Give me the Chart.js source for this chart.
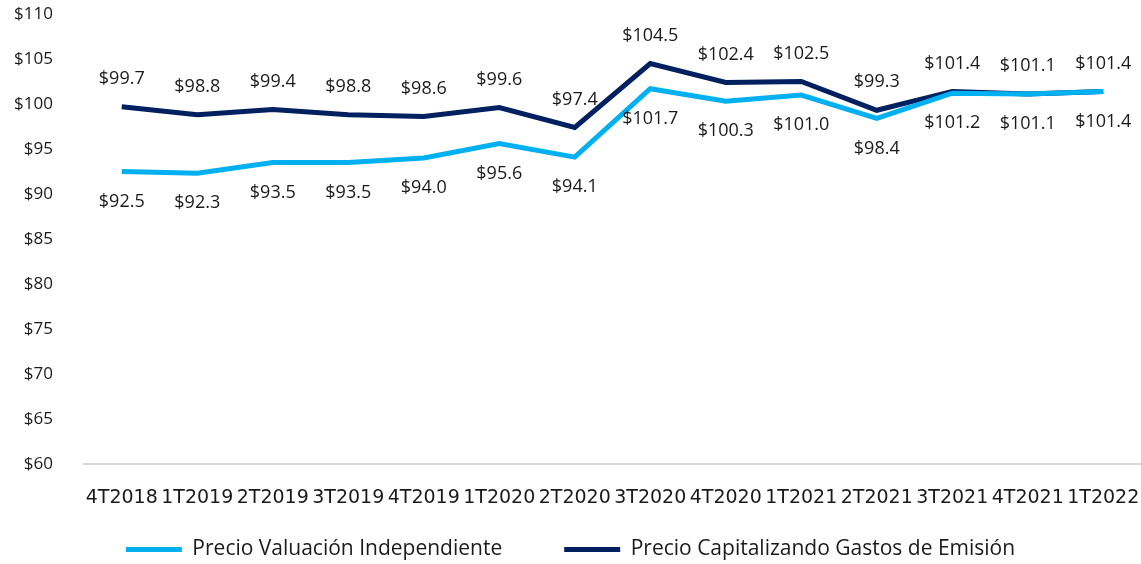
<!DOCTYPE html>
<html>
<head>
<meta charset="utf-8">
<script src="https://cdn.jsdelivr.net/npm/chart.js@4.4.1/dist/chart.umd.min.js"></script>
<style>
  html, body { margin: 0; padding: 0; background: #fff; }
  #wrap { width: 1141px; height: 564px; }
</style>
</head>
<body>
<div id="wrap"><canvas id="precioChart" width="1141" height="564"></canvas></div>
<script>
var trimestres = ['4T2018', '1T2019', '2T2019', '3T2019', '4T2019', '1T2020', '2T2020',
                  '3T2020', '4T2020', '1T2021', '2T2021', '3T2021', '4T2021', '1T2022'];
var precioValuacion = [92.5, 92.3, 93.5, 93.5, 94.0, 95.6, 94.1, 101.7, 100.3, 101.0, 98.4, 101.2, 101.1, 101.4];
var precioCapitalizando = [99.7, 98.8, 99.4, 98.8, 98.6, 99.6, 97.4, 104.5, 102.4, 102.5, 99.3, 101.4, 101.1, 101.4];
var yTicks = [60, 65, 70, 75, 80, 85, 90, 95, 100, 105, 110];

var etiquetas = {
    id: 'etiquetas',
    beforeLayout: function(chart) {
        // la leyenda ocupa poco en el layout, pero se dibuja en una caja mas alta
        var lg = chart.legend;
        if (lg && !lg._ajustada) {
            var fitOrig = lg.fit;
            var drawOrig = lg.draw;
            lg.fit = function() { fitOrig.call(this); this.height = 50; };
            lg.draw = function() {
                var t = this.top, h = this.height;
                this.top = this.bottom - 87;
                this.height = 87;
                drawOrig.apply(this, arguments);
                this.top = t;
                this.height = h;
            };
            lg._ajustada = true;
        }
    },
    // etiquetas de datos (arriba la serie oscura, abajo la clara)
    afterDatasetsDraw: function(chart) {
        var ctx = chart.ctx;
        ctx.save();
        ctx.font = '18px "Open Sans"';
        ctx.fillStyle = '#1a1a1a';
        ctx.textAlign = 'center';
        ctx.textBaseline = 'middle';
        chart.data.datasets.forEach(function(ds, i) {
            var meta = chart.getDatasetMeta(i);
            var off = i === 1 ? -28 : 30;
            meta.data.forEach(function(pt, j) {
                ctx.fillText('$' + ds.data[j].toFixed(1), pt.x, pt.y + off);
            });
        });
        ctx.restore();
    }
};

var ctx = document.getElementById('precioChart').getContext('2d');
var chart = new Chart(ctx, {
    type: 'line',
    data: {
        labels: trimestres,
        datasets: [{
            label: 'Precio Valuación Independiente',
            data: precioValuacion,
            borderColor: '#00b0f0',
            backgroundColor: '#00b0f0',
            borderWidth: 5,
            pointRadius: 0,
            tension: 0
        }, {
            label: 'Precio Capitalizando Gastos de Emisión',
            data: precioCapitalizando,
            borderColor: '#002060',
            backgroundColor: '#002060',
            borderWidth: 5,
            pointRadius: 0,
            tension: 0
        }]
    },
    options: {
        responsive: false,
        animation: false,
        layout: { padding: { top: 14, right: 0, left: 0, bottom: 0 } },
        plugins: {
            tooltip: { enabled: false },
            legend: {
                position: 'bottom',
                labels: {
                    boxWidth: 56,
                    boxHeight: 5,
                    padding: 62,
                    color: '#1a1a1a',
                    font: { family: 'Open Sans', size: 21 },
                    generateLabels: function(c) {
                        var items = Chart.defaults.plugins.legend.labels.generateLabels(c);
                        items.forEach(function(it) { it.lineWidth = 0; });
                        return items;
                    }
                }
            }
        },
        scales: {
            x: {
                offset: true,
                grid: { display: false },
                border: { display: true, color: '#d9d9d9', width: 2 },
                afterFit: function(scale) {
                    scale.height = 50;
                    scale.paddingLeft = 0;
                    scale.paddingRight = 0;
                },
                ticks: {
                    color: '#1a1a1a',
                    font: { family: 'DejaVu Sans', size: 19 },
                    maxRotation: 0,
                    autoSkip: false,
                    padding: 15
                }
            },
            y: {
                min: 60,
                max: 110,
                grid: { display: false },
                border: { display: false },
                afterBuildTicks: function(scale) {
                    scale.ticks = yTicks.map(function(v) { return { value: v }; });
                },
                afterFit: function(scale) {
                    scale.width = 84;
                    scale.paddingTop = 0;
                    scale.paddingBottom = 0;
                },
                ticks: {
                    color: '#1a1a1a',
                    font: { family: 'Open Sans', size: 17 },
                    padding: 23,
                    callback: function(v) { return '$' + v; }
                }
            }
        }
    },
    plugins: [etiquetas]
});
</script>
</body>
</html>
